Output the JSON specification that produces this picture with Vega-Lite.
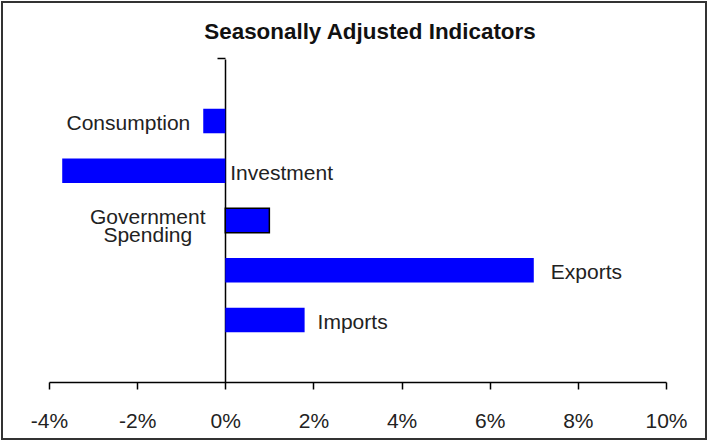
{
  "$schema": "https://vega.github.io/schema/vega-lite/v6.json",
  "width": 704,
  "height": 437,
  "padding": 2,
  "autosize": {"type": "none"},
  "background": "white",
  "title": {
    "text": "Seasonally Adjusted Indicators",
    "font": "Liberation Sans",
    "fontSize": 22.4,
    "fontWeight": "bold",
    "color": "#111111",
    "anchor": "middle",
    "frame": "group",
    "offset": -41.5,
    "dx": 16
  },
  "config": {
    "font": "Liberation Sans",
    "view": {"stroke": "#333333", "strokeWidth": 2}
  },
  "data": {
    "values": [
      {"indicator": "Consumption", "change": -0.5, "label": "Consumption"},
      {"indicator": "Investment", "change": -3.7, "label": "Investment"},
      {"indicator": "Government Spending", "change": 1.0, "label": "Government\nSpending"},
      {"indicator": "Exports", "change": 7.0, "label": "Exports"},
      {"indicator": "Imports", "change": 1.8, "label": "Imports"}
    ]
  },
  "encoding": {
    "y": {
      "field": "indicator",
      "type": "nominal",
      "sort": null,
      "scale": {"range": [57, 380], "paddingInner": 0.507, "paddingOuter": 1.03},
      "axis": {
        "orient": "left",
        "offset": -223,
        "labels": false,
        "values": ["Consumption"],
        "bandPosition": 0,
        "ticks": true,
        "tickOffset": -50.8,
        "tickSize": 8,
        "tickWidth": 1.5,
        "tickColor": "#000000",
        "title": null,
        "grid": false,
        "domainColor": "#000000",
        "domainWidth": 1.5
      }
    }
  },
  "layer": [
    {
      "mark": {"type": "bar", "color": "#0000ff", "strokeWidth": 1.5},
      "encoding": {
        "x": {
          "field": "change",
          "type": "quantitative",
          "scale": {"domain": [-4, 10], "range": [47, 664], "nice": false, "zero": false},
          "axis": {
            "orient": "bottom",
            "offset": -57,
            "values": [-4, -2, 0, 2, 4, 6, 8, 10],
            "labelExpr": "(datum.value < 0 ? '-' : '') + abs(datum.value) + '%'",
            "labelFlush": false,
            "labelOverlap": false,
            "labelFont": "Liberation Sans",
            "labelFontSize": 21,
            "labelColor": "#222222",
            "labelPadding": 21.3,
            "tickSize": 7,
            "tickColor": "#000000",
            "tickWidth": 1.5,
            "domainColor": "#000000",
            "domainWidth": 1.5,
            "grid": false,
            "title": null
          }
        },
        "stroke": {
          "condition": {"test": "datum.indicator === 'Government Spending'", "value": "#000000"},
          "value": "transparent"
        }
      }
    },
    {
      "transform": [{"filter": "datum.indicator === 'Consumption'"}],
      "mark": {"type": "text", "align": "right", "baseline": "middle", "dx": -13, "dy": 3, "fontSize": 21, "color": "#222222"},
      "encoding": {
        "x": {"field": "change", "type": "quantitative"},
        "text": {"field": "label"}
      }
    },
    {
      "transform": [{"filter": "datum.indicator === 'Investment'"}],
      "mark": {"type": "text", "align": "left", "baseline": "middle", "dx": 5, "dy": 3, "fontSize": 21, "color": "#222222"},
      "encoding": {
        "x": {"datum": 0, "type": "quantitative"},
        "text": {"field": "label"}
      }
    },
    {
      "transform": [{"filter": "datum.indicator === 'Government Spending'"}],
      "mark": {"type": "text", "align": "center", "baseline": "middle", "lineBreak": "\n", "lineHeight": 18, "dx": -77.5, "dy": -2.3, "fontSize": 21, "color": "#222222"},
      "encoding": {
        "x": {"datum": 0, "type": "quantitative"},
        "text": {"field": "label"}
      }
    },
    {
      "transform": [{"filter": "datum.indicator === 'Exports'"}],
      "mark": {"type": "text", "align": "left", "baseline": "middle", "dx": 17, "dy": 3, "fontSize": 21, "color": "#222222"},
      "encoding": {
        "x": {"field": "change", "type": "quantitative"},
        "text": {"field": "label"}
      }
    },
    {
      "transform": [{"filter": "datum.indicator === 'Imports'"}],
      "mark": {"type": "text", "align": "left", "baseline": "middle", "dx": 13, "dy": 3, "fontSize": 21, "color": "#222222"},
      "encoding": {
        "x": {"field": "change", "type": "quantitative"},
        "text": {"field": "label"}
      }
    }
  ]
}
